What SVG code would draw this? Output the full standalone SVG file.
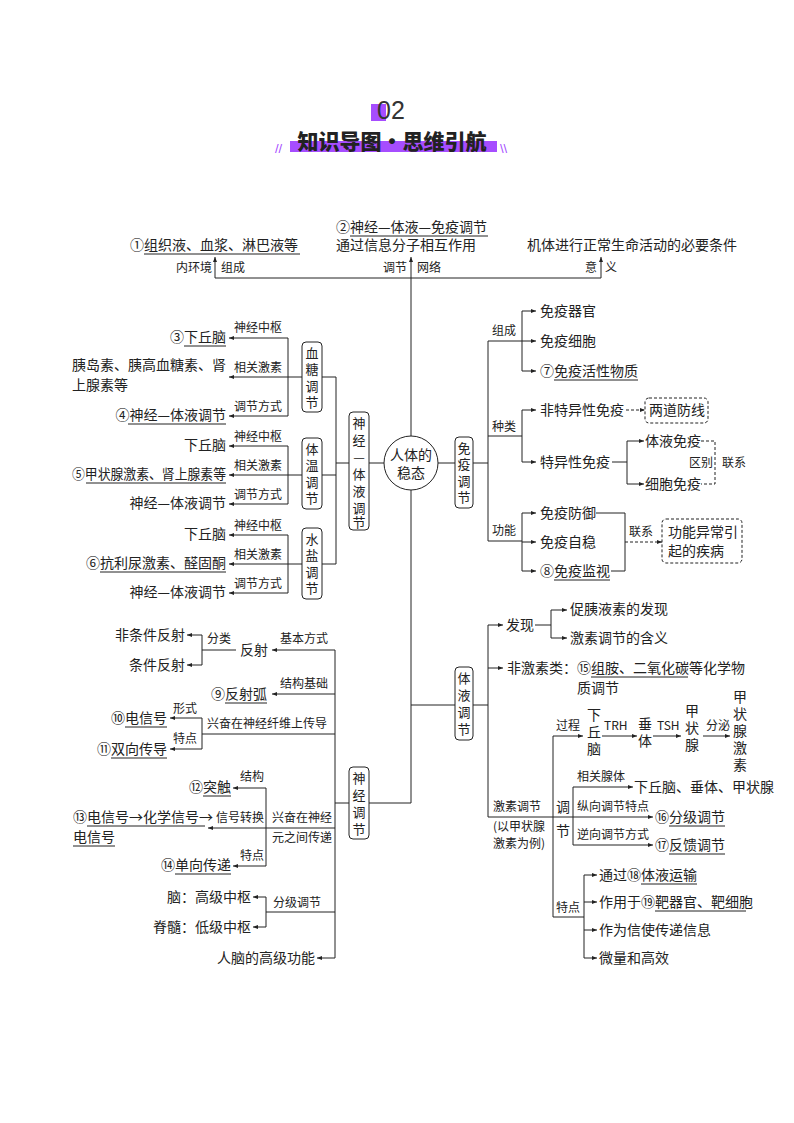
<svg xmlns="http://www.w3.org/2000/svg" width="794" height="1123" viewBox="0 0 794 1123">
<style>
text{font-family:"Noto Sans CJK SC","Liberation Serif",sans-serif;fill:#222}
.t{font-size:14px}
.s{font-size:12px}
.v{font-size:13px;text-anchor:middle}
.l{stroke:#222;stroke-width:1;fill:none}
.a{stroke:#222;stroke-width:1;fill:none;marker-end:url(#ar)}
.d{stroke:#222;stroke-width:1;fill:none;stroke-dasharray:3,2}
.da{stroke:#222;stroke-width:1;fill:none;stroke-dasharray:3,2;marker-end:url(#ar)}
.bx{fill:#fff;stroke:#222;stroke-width:1}
.db{fill:#fff;stroke:#222;stroke-width:1;stroke-dasharray:3,2}
.e{text-anchor:end}
.m{text-anchor:middle}
</style>
<defs><marker id="ar" markerWidth="6" markerHeight="6" refX="5" refY="3" orient="auto" markerUnits="userSpaceOnUse"><path d="M0,1 L5,3 L0,5 Z" fill="#222"/></marker></defs>
<rect width="794" height="1123" fill="#fff"/>
<g id="title">
<rect x="371" y="104" width="15" height="17" fill="#a64dff"/>
<text x="377" y="119" style="font-size:25px;font-family:'Liberation Sans',sans-serif;font-weight:300;fill:#333">02</text>
<rect x="290" y="141" width="207" height="11" fill="#a64dff"/>
<text x="392" y="149" class="m" style="font-size:21px;font-weight:900">知识导图·思维引航</text>
<text x="275" y="153" style="font-size:13px;fill:#a64dff;font-family:'Liberation Sans',sans-serif">//</text>
<text x="500" y="153" style="font-size:13px;fill:#a64dff;font-family:'Liberation Sans',sans-serif">\\</text>
</g>
<g id="connectors">
<line class="l" x1="411" y1="278" x2="411" y2="803"/>
<line class="l" x1="215" y1="278" x2="601" y2="278"/>
<line class="a" x1="215" y1="278" x2="215" y2="257"/>
<line class="a" x1="411" y1="278" x2="411" y2="257"/>
<line class="a" x1="601" y1="278" x2="601" y2="257"/>
<line class="l" x1="384" y1="463" x2="336" y2="463"/>
<line class="l" x1="336" y1="377" x2="336" y2="564"/>
<line class="l" x1="336" y1="377" x2="322" y2="377"/>
<line class="l" x1="336" y1="475" x2="322" y2="475"/>
<line class="l" x1="336" y1="564" x2="322" y2="564"/>
<line class="l" x1="288" y1="338" x2="288" y2="416"/>
<line class="a" x1="288" y1="338" x2="229" y2="338"/>
<line class="a" x1="302" y1="377" x2="229" y2="377"/>
<line class="a" x1="288" y1="416" x2="229" y2="416"/>
<line class="l" x1="288" y1="446" x2="288" y2="504"/>
<line class="a" x1="288" y1="446" x2="229" y2="446"/>
<line class="a" x1="302" y1="475" x2="229" y2="475"/>
<line class="a" x1="288" y1="504" x2="229" y2="504"/>
<line class="l" x1="288" y1="535" x2="288" y2="593"/>
<line class="a" x1="288" y1="535" x2="229" y2="535"/>
<line class="a" x1="302" y1="564" x2="229" y2="564"/>
<line class="a" x1="288" y1="593" x2="229" y2="593"/>
<line class="l" x1="438" y1="463" x2="455" y2="463"/>
<line class="l" x1="473" y1="463" x2="488" y2="463"/>
<line class="l" x1="488" y1="341" x2="488" y2="541"/>
<line class="l" x1="488" y1="341" x2="522" y2="341"/>
<line class="l" x1="488" y1="436" x2="522" y2="436"/>
<line class="l" x1="488" y1="541" x2="522" y2="541"/>
<line class="l" x1="522" y1="311" x2="522" y2="371"/>
<line class="a" x1="522" y1="311" x2="536" y2="311"/>
<line class="a" x1="522" y1="341" x2="536" y2="341"/>
<line class="a" x1="522" y1="371" x2="536" y2="371"/>
<line class="l" x1="522" y1="410" x2="522" y2="462"/>
<line class="a" x1="522" y1="410" x2="536" y2="410"/>
<line class="a" x1="522" y1="462" x2="536" y2="462"/>
<line class="da" x1="626" y1="410" x2="645" y2="410"/>
<line class="l" x1="612" y1="462" x2="627" y2="462"/>
<line class="l" x1="627" y1="441" x2="627" y2="484"/>
<line class="a" x1="627" y1="441" x2="644" y2="441"/>
<line class="a" x1="627" y1="484" x2="644" y2="484"/>
<polyline class="d" points="701,441 715,441 715,484 701,484"/>
<line class="l" x1="522" y1="513" x2="522" y2="571"/>
<line class="a" x1="522" y1="513" x2="536" y2="513"/>
<line class="a" x1="522" y1="542" x2="536" y2="542"/>
<line class="a" x1="522" y1="571" x2="536" y2="571"/>
<polyline class="l" points="596,513 625,513 625,571 611,571"/>
<line class="da" x1="625" y1="542" x2="662" y2="542"/>
<line class="l" x1="369" y1="803" x2="411" y2="803"/>
<line class="l" x1="349" y1="803" x2="335" y2="803"/>
<line class="l" x1="335" y1="650" x2="335" y2="958"/>
<line class="a" x1="335" y1="650" x2="272" y2="650"/>
<line class="l" x1="236" y1="650" x2="202" y2="650"/>
<line class="l" x1="202" y1="635" x2="202" y2="665"/>
<line class="a" x1="202" y1="635" x2="187" y2="635"/>
<line class="a" x1="202" y1="665" x2="187" y2="665"/>
<line class="a" x1="335" y1="694" x2="272" y2="694"/>
<line class="l" x1="335" y1="734" x2="202" y2="734"/>
<line class="l" x1="202" y1="718" x2="202" y2="749"/>
<line class="a" x1="202" y1="718" x2="170" y2="718"/>
<line class="a" x1="202" y1="749" x2="170" y2="749"/>
<line class="a" x1="335" y1="828" x2="208" y2="828"/>
<line class="l" x1="266" y1="788" x2="266" y2="866"/>
<line class="a" x1="266" y1="788" x2="233" y2="788"/>
<line class="a" x1="266" y1="866" x2="233" y2="866"/>
<line class="l" x1="335" y1="912" x2="266" y2="912"/>
<line class="l" x1="266" y1="897" x2="266" y2="927"/>
<line class="a" x1="266" y1="897" x2="253" y2="897"/>
<line class="a" x1="266" y1="927" x2="253" y2="927"/>
<line class="a" x1="335" y1="958" x2="317" y2="958"/>
<line class="l" x1="411" y1="705" x2="455" y2="705"/>
<line class="l" x1="473" y1="705" x2="488" y2="705"/>
<line class="l" x1="488" y1="625" x2="488" y2="817"/>
<line class="a" x1="488" y1="625" x2="503" y2="625"/>
<line class="l" x1="535" y1="625" x2="551" y2="625"/>
<line class="l" x1="551" y1="610" x2="551" y2="638"/>
<line class="a" x1="551" y1="610" x2="567" y2="610"/>
<line class="a" x1="551" y1="638" x2="567" y2="638"/>
<line class="a" x1="488" y1="668" x2="503" y2="668"/>
<line class="a" x1="488" y1="817" x2="653" y2="817"/>
<line class="l" x1="553" y1="736" x2="553" y2="917"/>
<line class="a" x1="553" y1="736" x2="583" y2="736"/>
<line class="a" x1="602" y1="736" x2="637" y2="736"/>
<line class="a" x1="653" y1="736" x2="681" y2="736"/>
<line class="a" x1="703" y1="736" x2="730" y2="736"/>
<line class="l" x1="573" y1="787" x2="573" y2="845"/>
<line class="a" x1="573" y1="787" x2="633" y2="787"/>
<line class="a" x1="573" y1="845" x2="653" y2="845"/>
<line class="l" x1="553" y1="917" x2="584" y2="917"/>
<line class="l" x1="584" y1="875" x2="584" y2="958"/>
<line class="a" x1="584" y1="875" x2="597" y2="875"/>
<line class="a" x1="584" y1="902" x2="597" y2="902"/>
<line class="a" x1="584" y1="930" x2="597" y2="930"/>
<line class="a" x1="584" y1="958" x2="597" y2="958"/>
</g>
<g id="top">
<text class="t" x="130" y="250">①组织液、血浆、淋巴液等</text><line class="l" x1="144" y1="254" x2="300" y2="254"/>
<text class="t" x="336" y="232">②神经—体液—免疫调节</text><line class="l" x1="350" y1="236" x2="488" y2="236"/>
<text class="t" x="336" y="250">通过信息分子相互作用</text>
<text class="t" x="527" y="250">机体进行正常生命活动的必要条件</text>
<text class="s e" x="212" y="272">内环境</text><text class="s" x="221" y="272">组成</text>
<text class="s e" x="407" y="272">调节</text><text class="s" x="417" y="272">网络</text>
<text class="s e" x="597" y="272">意</text><text class="s" x="605" y="272">义</text>
</g>
<g id="center"><circle cx="411" cy="463" r="27" class="bx"/><text class="t m" x="411" y="460">人体的</text><text class="t m" x="411" y="478">稳态</text></g>
<g id="nodes-left-top">
<rect class="bx" x="349" y="412" width="20" height="118" rx="4"/>
<text class="v" x="359" y="428">神</text><text class="v" x="359" y="445">经</text><text class="v" x="359" y="462">—</text><text class="v" x="359" y="479">体</text><text class="v" x="359" y="496">液</text><text class="v" x="359" y="513">调</text><text class="v" x="359" y="527">节</text>
<rect class="bx" x="302" y="342" width="20" height="70" rx="4"/>
<text class="v" x="312" y="358">血</text><text class="v" x="312" y="374">糖</text><text class="v" x="312" y="391">调</text><text class="v" x="312" y="407">节</text>
<rect class="bx" x="302" y="438" width="20" height="71" rx="4"/>
<text class="v" x="312" y="454">体</text><text class="v" x="312" y="470">温</text><text class="v" x="312" y="487">调</text><text class="v" x="312" y="503">节</text>
<rect class="bx" x="302" y="528" width="20" height="71" rx="4"/>
<text class="v" x="312" y="544">水</text><text class="v" x="312" y="560">盐</text><text class="v" x="312" y="577">调</text><text class="v" x="312" y="593">节</text>
<text class="s" x="234" y="332">神经中枢</text><text class="s" x="234" y="372">相关激素</text><text class="s" x="234" y="411">调节方式</text>
<text class="s" x="234" y="441">神经中枢</text><text class="s" x="234" y="470">相关激素</text><text class="s" x="234" y="499">调节方式</text>
<text class="s" x="234" y="530">神经中枢</text><text class="s" x="234" y="559">相关激素</text><text class="s" x="234" y="588">调节方式</text>
<text class="t e" x="226" y="342">③下丘脑</text><line class="l" x1="184" y1="346" x2="226" y2="346"/>
<text class="t" x="72" y="370">胰岛素、胰高血糖素、肾</text><text class="t" x="72" y="390">上腺素等</text>
<text class="t e" x="226" y="420">④神经—体液调节</text><line class="l" x1="128" y1="424" x2="226" y2="424"/>
<text class="t e" x="226" y="450">下丘脑</text>
<text class="t" x="72" y="479" textLength="154" lengthAdjust="spacingAndGlyphs">⑤甲状腺激素、肾上腺素等</text><line class="l" x1="86" y1="483" x2="226" y2="483"/>
<text class="t e" x="226" y="508">神经—体液调节</text>
<text class="t e" x="226" y="539">下丘脑</text>
<text class="t e" x="226" y="568">⑥抗利尿激素、醛固酮</text><line class="l" x1="100" y1="572" x2="226" y2="572"/>
<text class="t e" x="226" y="597">神经—体液调节</text>
</g>
<g id="nodes-right-top">
<rect class="bx" x="455" y="437" width="18" height="71" rx="4"/>
<text class="v" x="464" y="453">免</text><text class="v" x="464" y="469">疫</text><text class="v" x="464" y="486">调</text><text class="v" x="464" y="502">节</text>
<text class="s" x="492" y="335">组成</text><text class="s" x="492" y="431">种类</text><text class="s" x="492" y="535">功能</text>
<text class="t" x="540" y="316">免疫器官</text><text class="t" x="540" y="346">免疫细胞</text>
<text class="t" x="540" y="376">⑦免疫活性物质</text><line class="l" x1="554" y1="380" x2="638" y2="380"/>
<text class="t" x="540" y="415">非特异性免疫</text>
<rect class="db" x="645" y="398" width="63" height="25" rx="4"/><text class="t" x="649" y="415">两道防线</text>
<text class="t" x="540" y="467">特异性免疫</text>
<text class="t" x="645" y="446">体液免疫</text><text class="t" x="645" y="489">细胞免疫</text>
<text class="s" x="689" y="467">区别</text><text class="s" x="722" y="467">联系</text>
<text class="t" x="540" y="518">免疫防御</text><text class="t" x="540" y="547">免疫自稳</text>
<text class="t" x="540" y="576">⑧免疫监视</text><line class="l" x1="554" y1="580" x2="610" y2="580"/>
<text class="s" x="629" y="536">联系</text>
<rect class="db" x="662" y="519" width="80" height="44" rx="4"/>
<text class="t" x="668" y="537">功能异常引</text><text class="t" x="668" y="556">起的疾病</text>
</g>
<g id="nodes-left-bottom">
<rect class="bx" x="349" y="767" width="20" height="72" rx="4"/>
<text class="v" x="359" y="783">神</text><text class="v" x="359" y="800">经</text><text class="v" x="359" y="817">调</text><text class="v" x="359" y="834">节</text>
<text class="s" x="280" y="643">基本方式</text><text class="t" x="240" y="655">反射</text><text class="s" x="207" y="643">分类</text>
<text class="t e" x="185" y="640">非条件反射</text><text class="t e" x="185" y="670">条件反射</text>
<text class="s" x="280" y="688">结构基础</text>
<text class="t e" x="267" y="699">⑨反射弧</text><line class="l" x1="225" y1="703" x2="267" y2="703"/>
<text class="s" x="207" y="728">兴奋在神经纤维上传导</text>
<text class="s" x="173" y="713">形式</text><text class="s" x="173" y="743">特点</text>
<text class="t e" x="167" y="723">⑩电信号</text><line class="l" x1="125" y1="727" x2="167" y2="727"/>
<text class="t e" x="167" y="754">⑪双向传导</text><line class="l" x1="111" y1="758" x2="167" y2="758"/>
<text class="s" x="272" y="822">兴奋在神经</text><text class="s" x="272" y="842">元之间传递</text>
<text class="s" x="240" y="781">结构</text><text class="s" x="216" y="822">信号转换</text><text class="s" x="240" y="860">特点</text>
<text class="t e" x="231" y="792">⑫突触</text><line class="l" x1="203" y1="796" x2="231" y2="796"/>
<text class="t" x="73" y="822">⑬电信号→化学信号→</text><line class="l" x1="87" y1="826" x2="205" y2="826"/>
<text class="t" x="73" y="842">电信号</text><line class="l" x1="73" y1="846" x2="115" y2="846"/>
<text class="t e" x="231" y="870">⑭单向传递</text><line class="l" x1="175" y1="874" x2="231" y2="874"/>
<text class="s" x="273" y="907">分级调节</text>
<text class="t e" x="251" y="902">脑：高级中枢</text><text class="t e" x="251" y="932">脊髓：低级中枢</text>
<text class="t e" x="315" y="963">人脑的高级功能</text>
</g>
<g id="nodes-right-bottom">
<rect class="bx" x="455" y="667" width="18" height="73" rx="4"/>
<text class="v" x="464" y="683">体</text><text class="v" x="464" y="700">液</text><text class="v" x="464" y="717">调</text><text class="v" x="464" y="734">节</text>
<text class="t" x="506" y="630">发现</text>
<text class="t" x="570" y="614">促胰液素的发现</text><text class="t" x="570" y="643">激素调节的含义</text>
<text class="t" x="507" y="673">非激素类：⑮组胺、二氧化碳等化学物</text><line class="l" x1="591" y1="677" x2="688" y2="677"/>
<text class="t" x="577" y="693">质调节</text>
<text class="s" x="493" y="811">激素调节</text><text class="s" x="493" y="831">(以甲状腺</text><text class="s" x="493" y="848">激素为例)</text>
<text class="s" x="556" y="730">过程</text>
<text class="t m" x="594" y="720">下</text><text class="t m" x="594" y="737">丘</text><text class="t m" x="594" y="754">脑</text>
<text class="s" x="604" y="730">TRH</text>
<text class="t m" x="645" y="729">垂</text><text class="t m" x="645" y="746">体</text>
<text class="s" x="657" y="730">TSH</text>
<text class="t m" x="692" y="716">甲</text><text class="t m" x="692" y="733">状</text><text class="t m" x="692" y="750">腺</text>
<text class="s" x="706" y="730">分泌</text>
<text class="t m" x="740" y="702">甲</text><text class="t m" x="740" y="719">状</text><text class="t m" x="740" y="736">腺</text><text class="t m" x="740" y="753">激</text><text class="t m" x="740" y="770">素</text>
<text class="t" x="556" y="812">调</text><text class="t" x="556" y="836">节</text>
<text class="s" x="577" y="781">相关腺体</text><text class="s" x="577" y="811">纵向调节特点</text><text class="s" x="577" y="839">逆向调节方式</text>
<text class="t" x="634" y="792" textLength="140" lengthAdjust="spacingAndGlyphs">下丘脑、垂体、甲状腺</text>
<text class="t" x="655" y="822">⑯分级调节</text><line class="l" x1="669" y1="826" x2="725" y2="826"/>
<text class="t" x="655" y="850">⑰反馈调节</text><line class="l" x1="669" y1="854" x2="725" y2="854"/>
<text class="s" x="556" y="912">特点</text>
<text class="t" x="599" y="880">通过⑱体液运输</text><line class="l" x1="641" y1="884" x2="697" y2="884"/>
<text class="t" x="599" y="907">作用于⑲靶器官、靶细胞</text><line class="l" x1="655" y1="911" x2="746" y2="911"/>
<text class="t" x="599" y="935">作为信使传递信息</text>
<text class="t" x="599" y="963">微量和高效</text>
</g>
</svg>
